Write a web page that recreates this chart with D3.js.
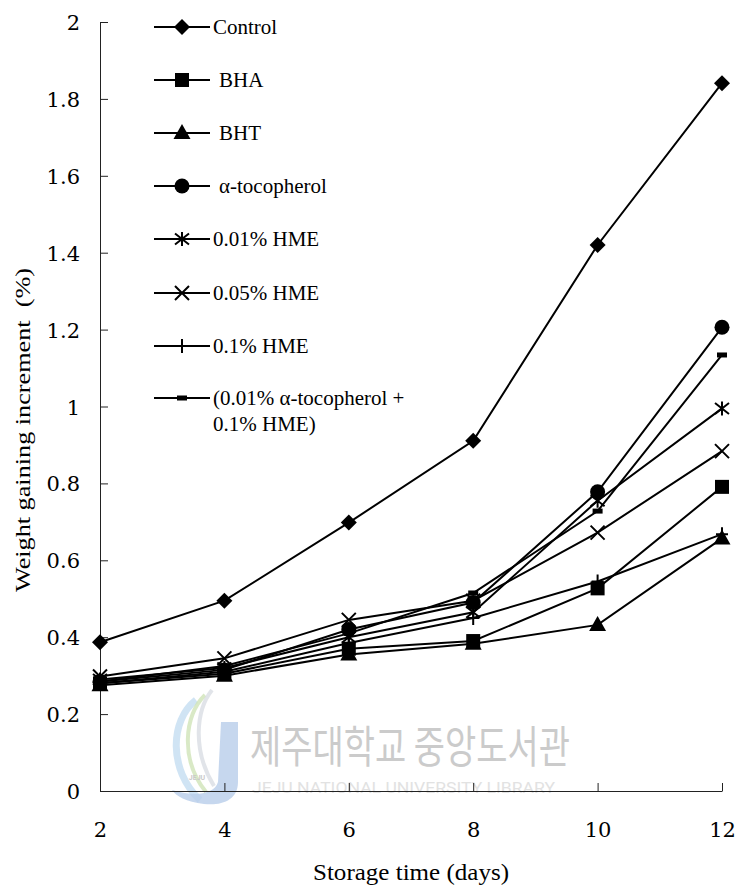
<!DOCTYPE html>
<html>
<head>
<meta charset="utf-8">
<script src="https://cdn.jsdelivr.net/npm/d3@7"></script>
<style>
  html, body { margin: 0; padding: 0; background: #fff; }
  svg { display: block; }
  text { font-family: "Liberation Serif", "Times New Roman", serif; fill: #000; }
</style>
</head>
<body>
<div id="chart"></div>
<script>
// Storage days on the x axis
const days = [2, 4, 6, 8, 10, 12];

// Weight gaining increment (%) per treatment
const control     = [0.387, 0.495, 0.698, 0.911, 1.42, 1.841];
const bha         = [0.280, 0.305, 0.370, 0.390, 0.527, 0.791];
const bht         = [0.275, 0.300, 0.355, 0.383, 0.432, 0.657];
const tocopherol  = [0.285, 0.315, 0.420, 0.490, 0.778, 1.206];
const hme001      = [0.290, 0.320, 0.400, 0.465, 0.755, 0.995];
const hme005      = [0.298, 0.345, 0.445, 0.495, 0.672, 0.884];
const hme01       = [0.280, 0.310, 0.385, 0.450, 0.545, 0.668];
const mixture     = [0.285, 0.325, 0.410, 0.515, 0.728, 1.134];

const seriesNames = ["Control", "BHA", "BHT", "\u03b1-tocopherol", "0.01% HME",
                     "0.05% HME", "0.1% HME", "(0.01% \u03b1-tocopherol +|0.1% HME)"];
const seriesValues = [control, bha, bht, tocopherol, hme001, hme005, hme01, mixture];
const markerKinds = ["diamond", "square", "triangle", "circle", "asterisk", "cross", "plus", "dash"];

const yTicks = [0, 0.2, 0.4, 0.6, 0.8, 1, 1.2, 1.4, 1.6, 1.8, 2];

const W = 738, H = 891;
const svg = d3.select("#chart").append("svg").attr("width", W).attr("height", H);

const x = d3.scaleLinear().domain([2, 12]).range([100, 722]);
const y = d3.scaleLinear().domain([0, 2]).range([791, 22]);

// Library watermark behind the plot
const wm = svg.append("g").attr("class", "watermark");
wm.append("path")
  .attr("d", "M196,700 C170,720 168,770 200,800")
  .attr("fill", "none").attr("stroke", "#bcd9ef").attr("stroke-width", 7).attr("opacity", 0.7);
wm.append("path")
  .attr("d", "M205,695 C184,715 180,760 206,792")
  .attr("fill", "none").attr("stroke", "#cfe3b8").attr("stroke-width", 4).attr("opacity", 0.8);
wm.append("path")
  .attr("d", "M212,690 C196,710 192,750 214,786")
  .attr("fill", "none").attr("stroke", "#d9dde3").attr("stroke-width", 4).attr("opacity", 0.8);
wm.append("path")
  .attr("d", "M221,722 L238,722 L238,782 C238,800 222,806 204,804 C186,802 176,796 172,790 C190,796 214,796 218,782 Z")
  .attr("fill", "#b8cdea").attr("opacity", 0.8);
wm.append("text").attr("x", 197).attr("y", 780).attr("text-anchor", "middle")
  .style("font-family", "Roboto, sans-serif").style("font-size", "7px").style("font-weight", "bold")
  .style("fill", "#c9c9c9").text("JEJU");
wm.append("text").attr("x", 250).attr("y", 763)
  .attr("textLength", 320).attr("lengthAdjust", "spacingAndGlyphs")
  .style("font-family", "'Noto Sans CJK KR', sans-serif").style("font-size", "44px")
  .style("fill", "#cbcbcb").text("제주대학교 중앙도서관");
wm.append("text").attr("x", 252).attr("y", 793)
  .attr("textLength", 303).attr("lengthAdjust", "spacingAndGlyphs")
  .style("font-family", "Roboto, sans-serif").style("font-size", "15px")
  .style("fill", "#e2e2e2").text("JEJU NATIONAL UNIVERSITY  LIBRARY");

// Axes with inward ticks
const xAxis = d3.axisBottom(x).tickValues(days).tickSizeInner(-8).tickSizeOuter(0).tickPadding(39);
const yAxis = d3.axisLeft(y).tickValues(yTicks).tickSizeInner(-8).tickSizeOuter(0).tickPadding(20)
  .tickFormat(d => d3.format("")(+d.toFixed(1)));

const gx = svg.append("g").attr("transform", "translate(0,791)").call(xAxis);
const gy = svg.append("g").attr("transform", "translate(100,0)").call(yAxis);
[gx, gy].forEach(g => {
  g.select(".domain").attr("stroke", "#222").attr("stroke-width", 1);
  g.selectAll(".tick line").attr("stroke", "#222").attr("stroke-width", 1);
  g.selectAll(".tick text").style("font-family", "'DejaVu Serif', serif")
    .style("font-size", "21px").attr("fill", "#000");
});
gx.selectAll(".tick text").attr("dy", "0.35em");
gy.selectAll(".tick text").attr("dy", "0.36em");

// Axis titles
svg.append("text").attr("x", 313).attr("y", 880)
  .attr("textLength", 196).attr("lengthAdjust", "spacingAndGlyphs")
  .style("font-size", "23px").text("Storage time (days)");
svg.append("text")
  .attr("transform", "translate(30,592) rotate(-90)")
  .attr("textLength", 324).attr("lengthAdjust", "spacingAndGlyphs")
  .attr("xml:space", "preserve")
  .style("font-size", "22px")
  .text("Weight gaining increment  (%)");

// Marker shapes
function markerPath(kind) {
  const p = d3.path();
  switch (kind) {
    case "diamond": p.moveTo(0, -8); p.lineTo(8, 0); p.lineTo(0, 8); p.lineTo(-8, 0); p.closePath(); break;
    case "square": p.rect(-7, -7, 14, 14); break;
    case "triangle": p.moveTo(0, -9); p.lineTo(8.5, 6); p.lineTo(-8.5, 6); p.closePath(); break;
    case "circle": p.arc(0, 0, 7.5, 0, 2 * Math.PI); break;
    case "asterisk":
      p.moveTo(0, -7); p.lineTo(0, 7);
      p.moveTo(-7, -5.5); p.lineTo(7, 5.5);
      p.moveTo(-7, 5.5); p.lineTo(7, -5.5);
      break;
    case "cross": p.moveTo(-7, -7); p.lineTo(7, 7); p.moveTo(-7, 7); p.lineTo(7, -7); break;
    case "plus": p.moveTo(0, -7); p.lineTo(0, 7); p.moveTo(-6, 0); p.lineTo(6, 0); break;
    case "dash": p.rect(-5, -2.5, 10, 5); break;
  }
  return p.toString();
}
const filled = { diamond: true, square: true, triangle: true, circle: true, dash: true };

const line = d3.line().x((d, i) => x(days[i])).y(d => y(d));

// Series lines then markers
const plot = svg.append("g");
seriesValues.forEach((vals) => {
  plot.append("path").datum(vals).attr("d", line)
    .attr("fill", "none").attr("stroke", "#000").attr("stroke-width", 2);
});
seriesValues.forEach((vals, si) => {
  const kind = markerKinds[si];
  plot.append("g").selectAll("path").data(vals).join("path")
    .attr("transform", (d, i) => `translate(${x(days[i])},${y(d)})`)
    .attr("d", markerPath(kind))
    .attr("fill", filled[kind] ? "#000" : "none")
    .attr("stroke", "#000").attr("stroke-width", filled[kind] ? 0 : 2);
});

// Legend
const legendRows = [27, 80, 133, 186, 239, 293, 346, 398];
const legendTextX = [213, 219, 219, 219, 213, 213, 213, 213];
const legend = svg.append("g");
seriesNames.forEach((name, i) => {
  const ly = legendRows[i];
  legend.append("line").attr("x1", 154).attr("x2", 210).attr("y1", ly).attr("y2", ly)
    .attr("stroke", "#000").attr("stroke-width", 2);
  const kind = markerKinds[i];
  legend.append("path").attr("transform", `translate(182,${ly})`).attr("d", markerPath(kind))
    .attr("fill", filled[kind] ? "#000" : "none")
    .attr("stroke", "#000").attr("stroke-width", filled[kind] ? 0 : 2);
  const parts = name.split("|");
  const t = legend.append("text").attr("x", legendTextX[i]).attr("y", ly + 7)
    .style("font-size", "21px");
  parts.forEach((part, k) => {
    t.append("tspan").attr("x", legendTextX[i]).attr("dy", k === 0 ? 0 : 26).text(part);
  });
});
</script>
</body>
</html>
